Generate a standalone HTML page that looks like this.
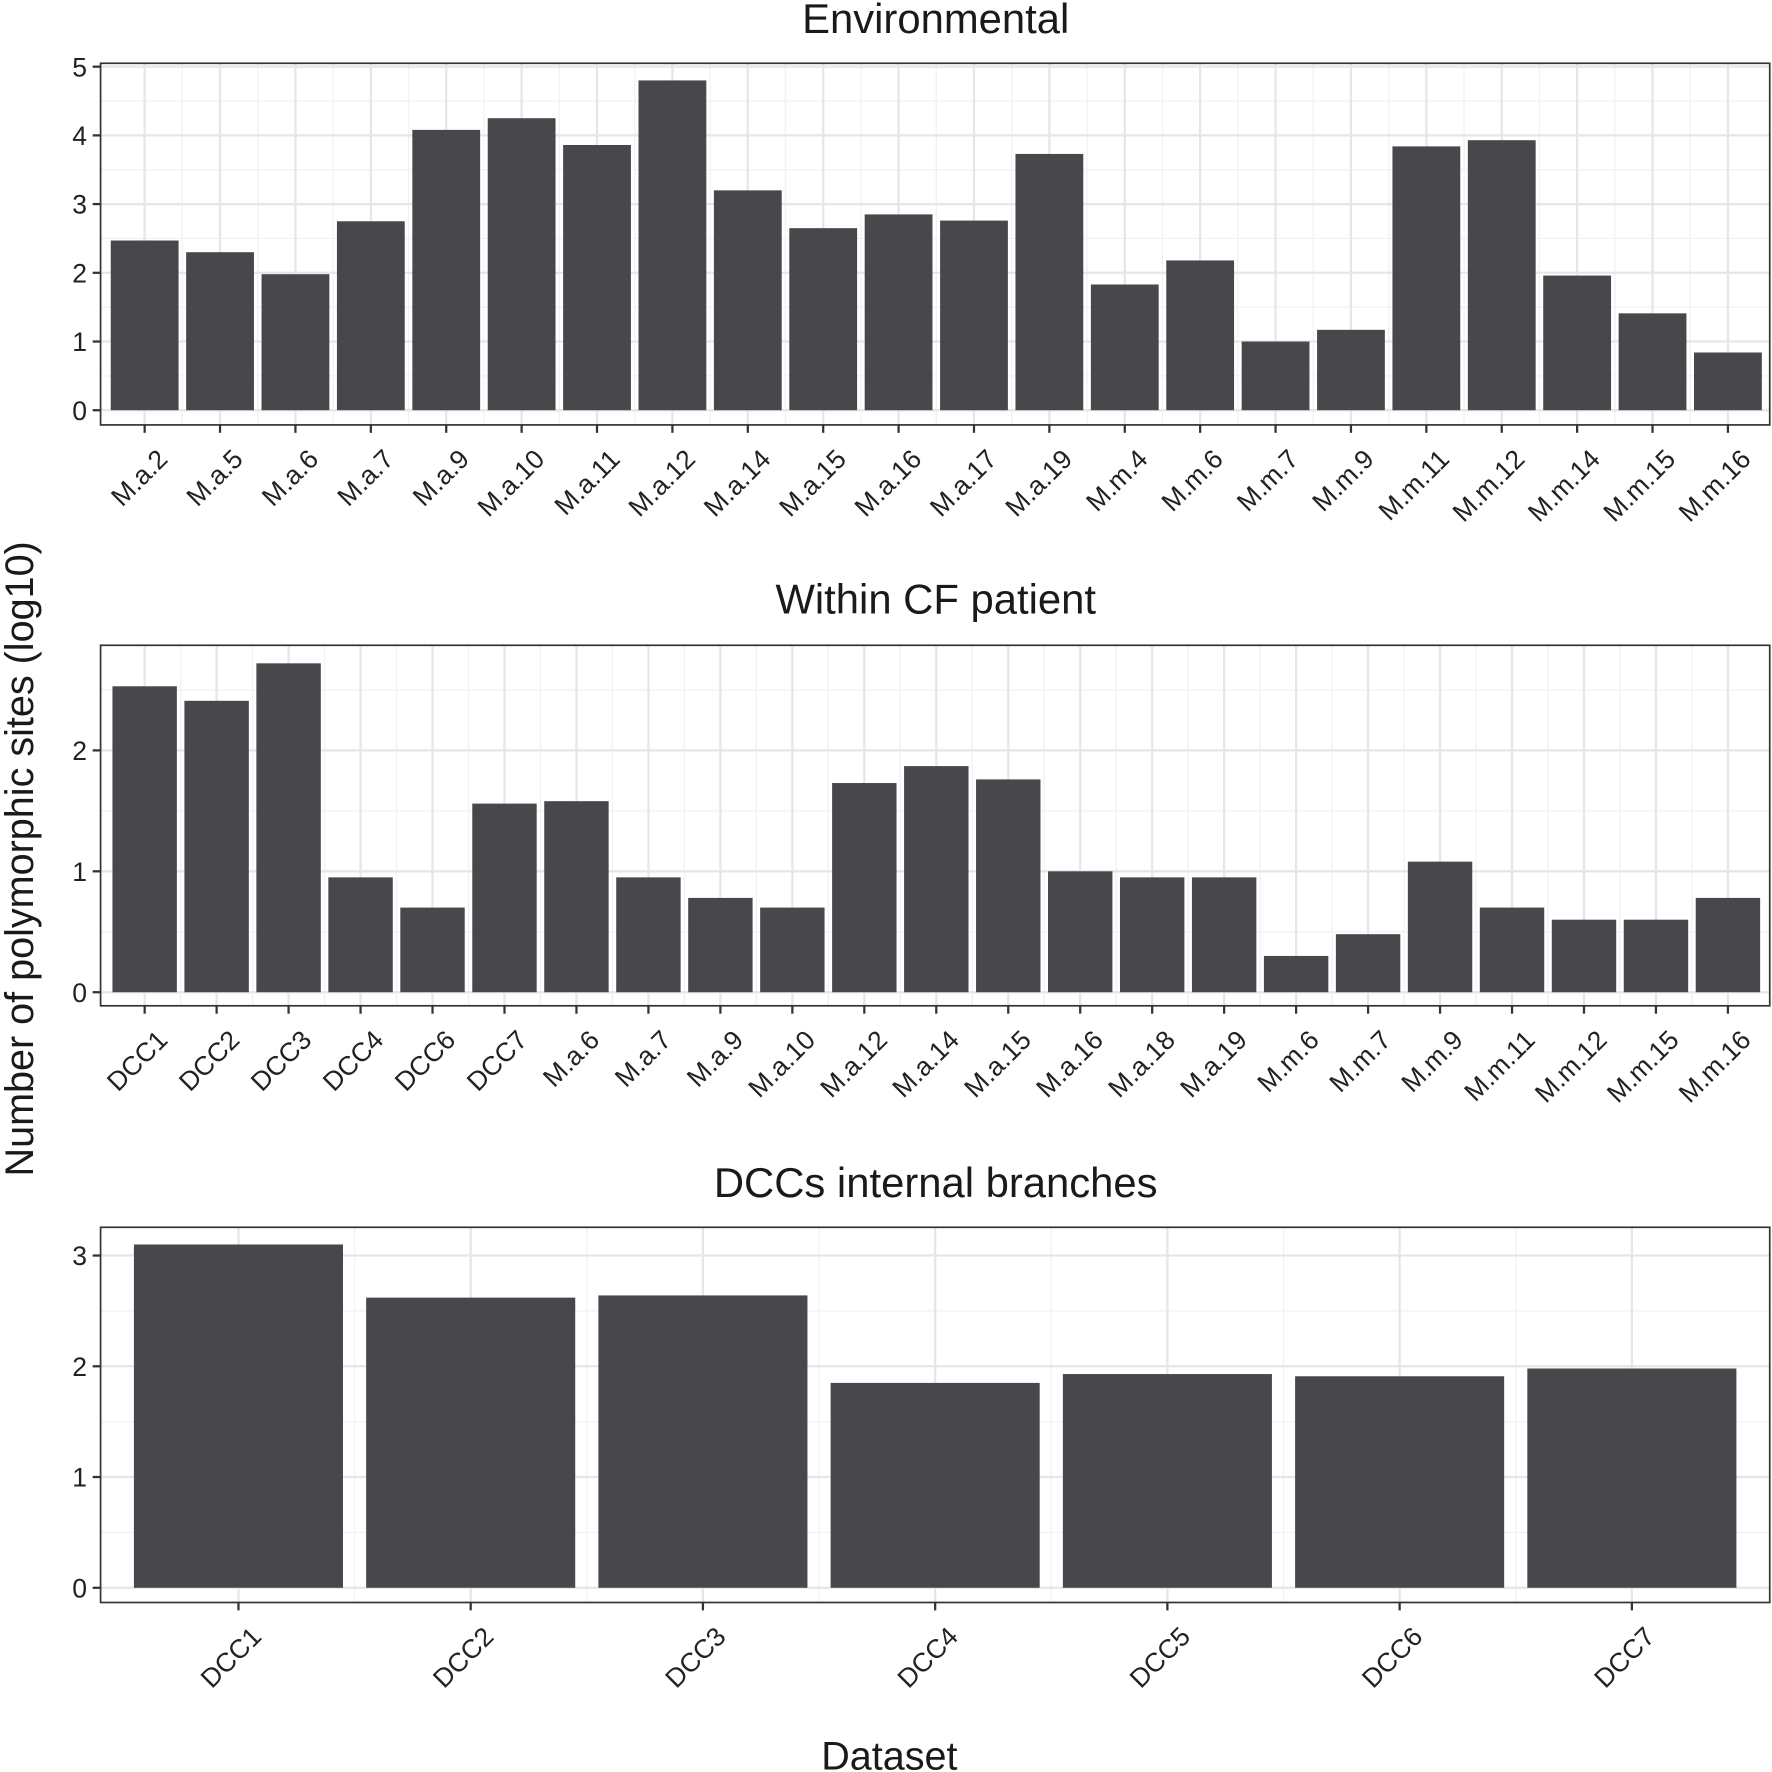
<!DOCTYPE html>
<html><head><meta charset="utf-8"><style>html,body{margin:0;padding:0;background:#fff}svg{display:block}</style></head>
<body>
<svg id="s" width="1772" height="1772" viewBox="0 0 1568 1568" xmlns="http://www.w3.org/2000/svg" font-family="Liberation Sans, sans-serif"></svg>
<script>
const s=document.getElementById('s');let h='';
function panel(p){
 const {x0,x1,y0,y1,base,unit,maxT,cats,vals,w,title,ty}=p;
 for(let t=0.5;base-t*unit>y0;t+=1){const y=base-t*unit;h+=`<line x1="${x0}" x2="${x1}" y1="${y}" y2="${y}" stroke="#f2f2f2" stroke-width="1.2"/>`;}
 const n=cats.length,c0=p.c0,c1=p.c1,sp=(c1-c0)/(n-1);
 for(let i=0;i<n-1;i++){const x=c0+sp*(i+0.5);h+=`<line x1="${x}" x2="${x}" y1="${y0}" y2="${y1}" stroke="#f2f2f2" stroke-width="1.2"/>`;}
 for(let t=0;t<=maxT;t++){const y=base-t*unit;h+=`<line x1="${x0}" x2="${x1}" y1="${y}" y2="${y}" stroke="#e6e6e6" stroke-width="2"/>`;
  h+=`<line x1="${x0-7}" x2="${x0}" y1="${y}" y2="${y}" stroke="#333" stroke-width="2"/><text x="${x0-12}" y="${y+8.5}" font-size="23.5" text-anchor="end" fill="#222">${t}</text>`;}
 for(let i=0;i<n;i++){const x=c0+sp*i;h+=`<line x1="${x}" x2="${x}" y1="${y0}" y2="${y1}" stroke="#e6e6e6" stroke-width="2"/>`;}
 for(let i=0;i<n;i++){const x=c0+sp*i,v=vals[i];
  h+=`<rect x="${x-w/2}" y="${base-v*unit}" width="${w}" height="${v*unit}" fill="#48484c"/>`;
  h+=`<line x1="${x}" x2="${x}" y1="${y1}" y2="${y1+7}" stroke="#333" stroke-width="2"/>`;
  h+=`<text transform="translate(${x+10},${y1+20}) rotate(-45)" font-size="23.5" text-anchor="end" dy="0.7em" fill="#222">${cats[i]}</text>`;}
 h+=`<rect x="${x0}" y="${y0}" width="${x1-x0}" height="${y1-y0}" fill="none" stroke="#333" stroke-width="1.5"/>`;
 h+=`<text x="828" y="${ty}" font-size="37" text-anchor="middle" fill="#1a1a1a">${title}</text>`;
}
panel({x0:89,x1:1566,y0:56,y1:376,base:363,unit:60.8,maxT:5,c0:128,c1:1529,w:60,title:"Environmental",ty:29,
cats:"M.a.2 M.a.5 M.a.6 M.a.7 M.a.9 M.a.10 M.a.11 M.a.12 M.a.14 M.a.15 M.a.16 M.a.17 M.a.19 M.m.4 M.m.6 M.m.7 M.m.9 M.m.11 M.m.12 M.m.14 M.m.15 M.m.16".split(' '),
vals:[2.47,2.3,1.98,2.75,4.08,4.25,3.86,4.8,3.2,2.65,2.85,2.76,3.73,1.83,2.18,1.0,1.17,3.84,3.93,1.96,1.41,0.84]});
panel({x0:89,x1:1566,y0:571,y1:890,base:878,unit:107,maxT:2,c0:128,c1:1529,w:57,title:"Within CF patient",ty:543,
cats:"DCC1 DCC2 DCC3 DCC4 DCC6 DCC7 M.a.6 M.a.7 M.a.9 M.a.10 M.a.12 M.a.14 M.a.15 M.a.16 M.a.18 M.a.19 M.m.6 M.m.7 M.m.9 M.m.11 M.m.12 M.m.15 M.m.16".split(' '),
vals:[2.53,2.41,2.72,0.95,0.7,1.56,1.58,0.95,0.78,0.7,1.73,1.87,1.76,1.0,0.95,0.95,0.3,0.48,1.08,0.7,0.6,0.6,0.78]});
panel({x0:89,x1:1566,y0:1086,y1:1418,base:1405,unit:98,maxT:3,c0:211,c1:1444,w:185,title:"DCCs internal branches",ty:1059,
cats:"DCC1 DCC2 DCC3 DCC4 DCC5 DCC6 DCC7".split(' '),vals:[3.1,2.62,2.64,1.85,1.93,1.91,1.98]});
h+=`<text transform="translate(29,760) rotate(-90)" font-size="35" text-anchor="middle" fill="#1a1a1a">Number of polymorphic sites (log10)</text>`;
h+=`<text x="787" y="1566" font-size="35" text-anchor="middle" fill="#1a1a1a">Dataset</text>`;
s.innerHTML=h;
</script>
</body></html>
